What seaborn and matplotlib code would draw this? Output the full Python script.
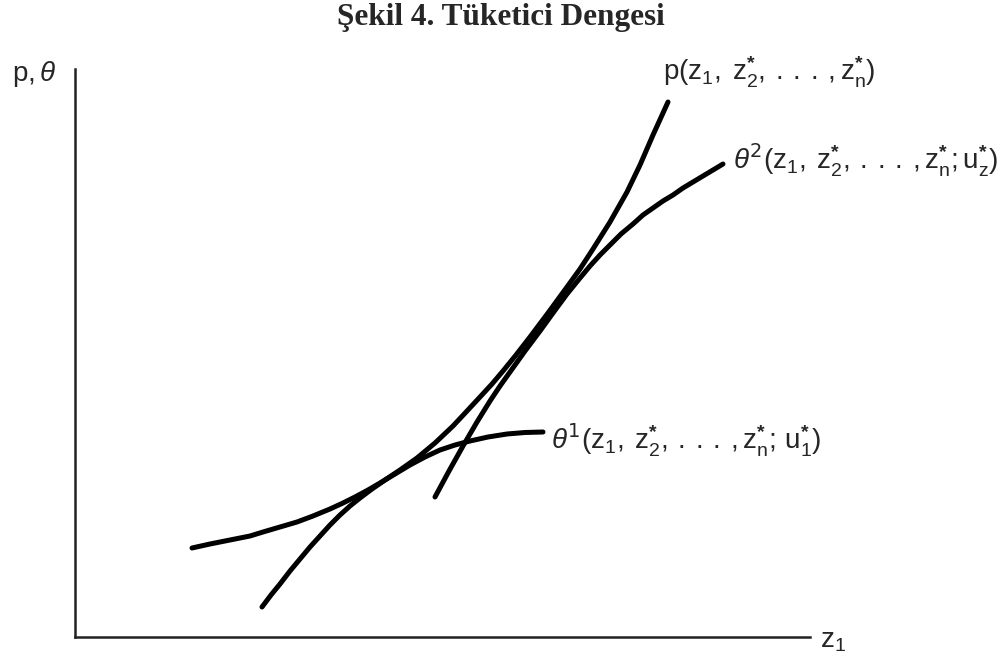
import numpy as np
import pandas as pd
import matplotlib
matplotlib.use("Agg")
import matplotlib.pyplot as plt
import seaborn as sns

# curves (z1, value)
theta1_z = [11.7, 13.5, 15.5, 17.5, 18.8, 20.5, 22.2, 23.8, 25.5, 26.8, 28.0, 29.3,
            30.5, 32.0, 33.5, 35.0, 36.5, 38.0, 39.5, 41.3, 43.2, 45.0, 46.8]
theta1_v = [8.9, 9.3, 9.7, 10.1, 10.5, 11.0, 11.5, 12.1, 12.8, 13.4, 14.0, 14.7,
            15.4, 16.3, 17.2, 18.0, 18.7, 19.2, 19.6, 20.0, 20.3, 20.45, 20.5]

p_z = [18.7, 19.6, 20.5, 21.5, 22.5, 23.5, 24.5, 25.5, 26.5, 27.5, 28.5, 29.7, 31.0,
       32.5, 34.2, 36.0, 37.8, 39.2, 40.5, 41.7, 42.8, 44.1, 45.5, 47.3, 49.2, 50.5,
       51.8, 53.5, 55.2, 56.5, 57.8, 59.3]
p_v = [3.0, 4.2, 5.3, 6.6, 7.8, 9.0, 10.1, 11.2, 12.2, 13.1, 13.9, 14.8, 15.7,
       16.7, 17.9, 19.4, 21.1, 22.6, 24.0, 25.3, 26.6, 28.2, 30.0, 32.4, 35.0, 36.8,
       38.8, 41.5, 44.5, 47.2, 50.2, 53.5]

theta2_z = [36.0, 37.4, 38.8, 40.2, 41.5, 42.5, 43.5, 45.0, 46.5, 47.8, 49.2, 50.5,
            51.5, 52.5, 53.5, 54.6, 55.8, 56.8, 57.8, 58.8, 59.8, 60.8, 61.8, 62.8,
            63.8, 64.8]
theta2_v = [14.0, 16.6, 19.1, 21.5, 23.6, 25.1, 26.5, 28.6, 30.6, 32.4, 34.3, 35.9,
            37.1, 38.2, 39.2, 40.3, 41.3, 42.2, 42.9, 43.6, 44.2, 44.9, 45.5, 46.1,
            46.7, 47.3]

title = "Şekil 4. Tüketici Dengesi"
dots = r",\:.\:.\:.\:,"
lbl_p = r"$\mathrm{p(z_1,\;z_2^{\mathbf{*}}" + dots + r"z_n^{\mathbf{*}})}$"
lbl_t2 = (r"$\mathit{\theta}^2\mathrm{(z_1,\;z_2^{\mathbf{*}}" + dots
          + r"z_n^{\mathbf{*}};u_z^{\mathbf{*}})}$")
lbl_t1 = (r"$\mathit{\theta}^1\mathrm{(z_1,\;z_2^{\mathbf{*}}" + dots
          + r"z_n^{\mathbf{*}};\,u_1^{\mathbf{*}})}$")
lbl_y = r"$\mathrm{p,}\mathit{\theta}$"
lbl_x = r"$\mathrm{z_1}$"

sns.set_style("white")
plt.rcParams["mathtext.fontset"] = "custom"
plt.rcParams["mathtext.rm"] = "Liberation Sans"
plt.rcParams["mathtext.it"] = "Liberation Sans:italic"
plt.rcParams["mathtext.bf"] = "Liberation Sans:bold"
plt.rcParams["mathtext.default"] = "regular"

W, H = 1003, 658
fig = plt.figure(figsize=(W / 100, H / 100), dpi=100)
ax = fig.add_axes([75 / W, (H - 637) / H, (810 - 75) / W, (637 - 69) / H])
ax.set_xlim(0, 73.5)
ax.set_ylim(0, 56.8)

curves = [(theta1_z, theta1_v), (p_z, p_v), (theta2_z, theta2_v)]
for zz, vv in curves:
    d = pd.DataFrame({"z": zz, "v": vv})
    sns.lineplot(data=d, x="z", y="v", sort=False, color="black", lw=3.6,
                 solid_capstyle="round", solid_joinstyle="round", ax=ax)

for s in ["top", "right"]:
    ax.spines[s].set_visible(False)
for s in ["left", "bottom"]:
    ax.spines[s].set_linewidth(1.8)
    ax.spines[s].set_color("#222222")
ax.set_xticks([])
ax.set_yticks([])
ax.set_xlabel("")
ax.set_ylabel("")

def px(x, y):
    return x / W, 1 - y / H

fig.text(*px(501, 18), title, ha="center", va="center", fontsize=22.5,
         fontweight="bold", family="Liberation Serif")
fig.text(*px(663, 72), lbl_p, ha="left", va="center", fontsize=20)
fig.text(*px(733, 160), lbl_t2, ha="left", va="center", fontsize=20)
fig.text(*px(551, 440), lbl_t1, ha="left", va="center", fontsize=20)
fig.text(*px(12, 74), lbl_y, ha="left", va="center", fontsize=20)
fig.text(*px(820, 640), lbl_x, ha="left", va="center", fontsize=20)

fig.savefig("out.png", dpi=100)
